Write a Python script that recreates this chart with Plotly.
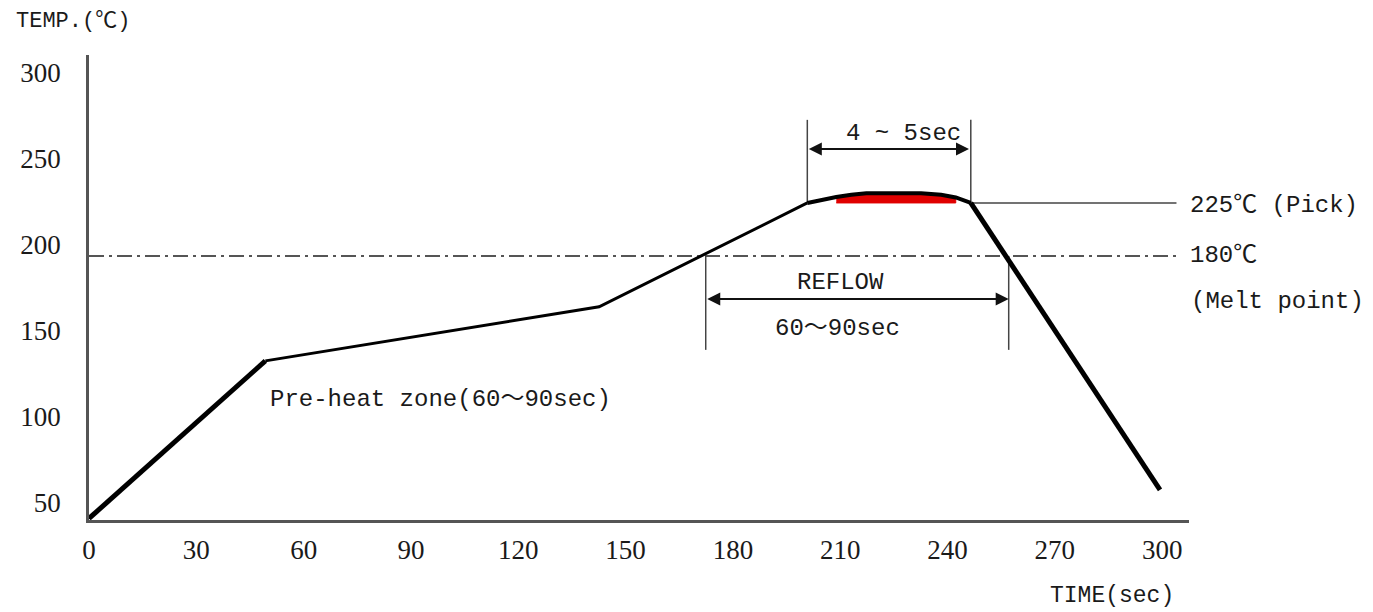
import plotly.graph_objects as go

# ---- data ----
ramp_time = [0, 49.3]
ramp_temp = [41, 132.6]
soak_time = [49.3, 142.6, 200.8]
soak_temp = [132.6, 164, 224.4]
dome_time = [200.8, 204.7, 208.9, 213.1, 217.3, 232.6, 238.2, 242.3, 246.5]
dome_temp = [224.4, 226.2, 227.9, 229.1, 230.0, 230.0, 229.1, 227.6, 224.4]
red_time = [208.9, 213.1, 217.3, 232.6, 238.2, 242.3]
red_temp = [227.6, 228.8, 229.7, 229.7, 228.8, 227.3]
cool_time = [246.5, 299.4]
cool_temp = [224.4, 57.6]

peak_temp = 224.4      # drawn level of "225℃ (Pick)"
melt_temp = 193.6      # drawn level of "180℃" dash-dot line
peak_start, peak_end = 200.8, 246.5
reflow_start, reflow_end = 172.4, 257.1

x_ticks = [0, 30, 60, 90, 120, 150, 180, 210, 240, 270, 300]
y_ticks = [50, 100, 150, 200, 250, 300]

TXT = "#1a1a1a"
FONT = "Liberation Mono, Noto Sans CJK SC"
NUM = "Liberation Serif"

fig = go.Figure()

def line(x, y, w, color="black", dash=None):
    fig.add_trace(go.Scatter(x=x, y=y, mode="lines", hoverinfo="skip",
                             line=dict(color=color, width=w, dash=dash),
                             showlegend=False, cliponaxis=False))

# red area under dome
fig.add_trace(go.Scatter(x=red_time + red_time[::-1],
                         y=red_temp + [peak_temp] * len(red_time),
                         fill="toself", fillcolor="#e00000", mode="lines",
                         line=dict(color="#e00000", width=1), hoverinfo="skip",
                         showlegend=False))

# melt dash-dot line
line([0, 304], [melt_temp, melt_temp], 2, "#555555", "15px,5px,3px,5px")
# peak horizontal line
line([peak_end, 304], [peak_temp, peak_temp], 1.5, "#444444")
# peak verticals
line([peak_start, peak_start], [peak_temp, 272.7], 1.5, "#444444")
line([peak_end, peak_end], [peak_temp, 272.7], 1.5, "#444444")
# reflow verticals
line([reflow_start, reflow_start], [melt_temp, 139], 1.5, "#444444")
line([reflow_end, reflow_end], [melt_temp, 139], 1.5, "#444444")

# profile
line(ramp_time, ramp_temp, 5)
line(soak_time, soak_temp, 3)
line(dome_time, dome_temp, 4)
line(cool_time, cool_temp, 5)

annotations = []
# double arrows
for (x0, x1, yv) in [(peak_start, peak_end - 0.5, 255.8), (reflow_start, reflow_end, 168.6)]:
    annotations.append(dict(x=x1, y=yv, ax=x0, ay=yv, xref="x", yref="y",
                            axref="x", ayref="y", text="", showarrow=True,
                            arrowhead=2, arrowside="end+start", arrowsize=1.3,
                            arrowwidth=2, arrowcolor="#111111"))

def txt(x, y, s, xanchor="center", size=24, xref="x", yref="y", family=FONT):
    annotations.append(dict(x=x, y=y, text=s, xref=xref, yref=yref, showarrow=False,
                            xanchor=xanchor, yanchor="middle",
                            font=dict(family=family, size=size, color=TXT)))

txt(227.6, 265, "4 ~ 5sec")
txt(210, 177.9, "REFLOW")
txt(209.2, 151.7, "60～90sec")
txt(307.2, 222.7, "225℃ (Pick)", "left")
txt(307.2, melt_temp, "180℃", "left")
txt(307.4, 167.4, "(Melt point)", "left")
txt(50.1, 109.9, "Pre-heat zone(60～90sec)", "left")
txt(-0.068, 1.071, "TEMP.(℃)", "left", 22, "paper", "paper")
txt(0.930, -0.163, "TIME(sec)", "center", 23, "paper", "paper")

# page body has an 8px margin; figure sized so plot area lands where the reference has it
fig.update_layout(
    width=1357, height=604,
    margin=dict(l=77, r=176, t=47, b=92),
    plot_bgcolor="white", paper_bgcolor="white",
    annotations=annotations,
    xaxis=dict(range=[0, 307.5], tickvals=x_ticks, showgrid=False, zeroline=False,
               showline=True, linecolor="#555555", linewidth=2.5, ticks="",
               ticklabelstandoff=4,
               tickfont=dict(family=NUM, size=27, color=TXT)),
    yaxis=dict(range=[40.1, 310.4], tickvals=y_ticks, showgrid=False, zeroline=False,
               showline=True, linecolor="#555555", linewidth=2.5, ticks="",
               ticklabelstandoff=20,
               tickfont=dict(family=NUM, size=27, color=TXT)),
)

fig.write_html("out.html")
